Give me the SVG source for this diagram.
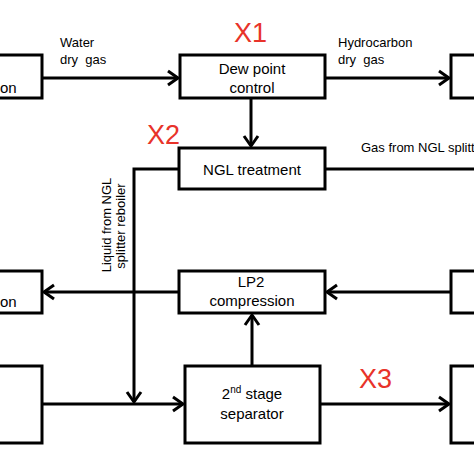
<svg xmlns="http://www.w3.org/2000/svg" width="474" height="474" viewBox="0 0 474 474">
<style>
.box{fill:#fff;stroke:#000;stroke-width:3}
.t{font-family:"Liberation Sans",Arial,sans-serif;font-size:15px;fill:#000}
.lbl{font-family:"Liberation Sans",Arial,sans-serif;font-size:13px;fill:#000}
.x{font-family:"Liberation Sans",Arial,sans-serif;font-size:27px;fill:#e8332a}
.c{text-anchor:middle}
.ln{fill:none;stroke:#000;stroke-width:3}
</style>
<defs>
<marker id="ah" markerUnits="userSpaceOnUse" markerWidth="20" markerHeight="20" viewBox="-13 -10 15 20" refX="0" refY="0" orient="auto">
<path d="M-10,-7 L0,0 L-10,7" fill="none" stroke="#000" stroke-width="3"/>
</marker>
</defs>
<rect width="474" height="474" fill="#fff"/>
<g id="connectors">
<line class="ln" x1="42" y1="78" x2="178" y2="78" marker-end="url(#ah)"/>
<line class="ln" x1="325" y1="78" x2="449" y2="78" marker-end="url(#ah)"/>
<line class="ln" x1="251" y1="98" x2="251" y2="146" marker-end="url(#ah)"/>
<polyline class="ln" points="179,169 134,169 134,402" marker-end="url(#ah)"/>
<line class="ln" x1="325" y1="169" x2="476" y2="169"/>
<line class="ln" x1="179" y1="292" x2="44" y2="292" marker-end="url(#ah)"/>
<line class="ln" x1="451" y1="292" x2="327" y2="292" marker-end="url(#ah)"/>
<line class="ln" x1="252" y1="366" x2="252" y2="315" marker-end="url(#ah)"/>
<line class="ln" x1="42" y1="404" x2="183" y2="404" marker-end="url(#ah)"/>
<line class="ln" x1="320" y1="404" x2="449" y2="404" marker-end="url(#ah)"/>
<text class="lbl" x="60" y="47">Water</text>
<text class="lbl" x="60" y="64">dry&#160; gas</text>
<text class="lbl" x="338" y="47">Hydrocarbon</text>
<text class="lbl" x="338" y="64">dry&#160; gas</text>
<text class="lbl" x="361" y="152">Gas from NGL splitter</text>
<text class="lbl c" transform="translate(111,225) rotate(-90)">Liquid from NGL</text>
<text class="lbl c" transform="translate(125,226) rotate(-90)">splitter reboiler</text>
</g>
<g id="n-top-left"><rect class="box" x="-10" y="55" width="52" height="43"/><text class="t" x="0" y="93">on</text></g>
<g id="n-dew"><rect class="box" x="180" y="55" width="145" height="43"/><text class="t c" x="252" y="74">Dew point</text><text class="t c" x="252" y="93">control</text></g>
<g id="n-top-right"><rect class="box" x="451" y="55" width="40" height="43"/></g>
<g id="n-ngl"><rect class="box" x="179" y="148" width="146" height="41"/><text class="t c" x="252" y="175">NGL treatment</text></g>
<g id="n-mid-left"><rect class="box" x="-10" y="271" width="52" height="42"/><text class="t" x="0" y="307">on</text></g>
<g id="n-lp2"><rect class="box" x="179" y="271" width="146" height="42"/><text class="t c" x="251" y="287">LP2</text><text class="t c" x="252" y="306">compression</text></g>
<g id="n-mid-right"><rect class="box" x="451" y="271" width="40" height="42"/></g>
<g id="n-bot-left"><rect class="box" x="-10" y="366" width="52" height="77"/></g>
<g id="n-sep"><rect class="box" x="185" y="366" width="135" height="77"/><text class="t c" x="252" y="399">2<tspan font-size="10" dy="-6">nd</tspan><tspan dy="6"> stage</tspan></text><text class="t c" x="252" y="419">separator</text></g>
<g id="n-bot-right"><rect class="box" x="451" y="366" width="40" height="77"/></g>
<g id="markers-x">
<text class="x" x="234" y="42">X1</text>
<text class="x" x="147" y="144">X2</text>
<text class="x" x="359" y="388">X3</text>
</g>
</svg>
